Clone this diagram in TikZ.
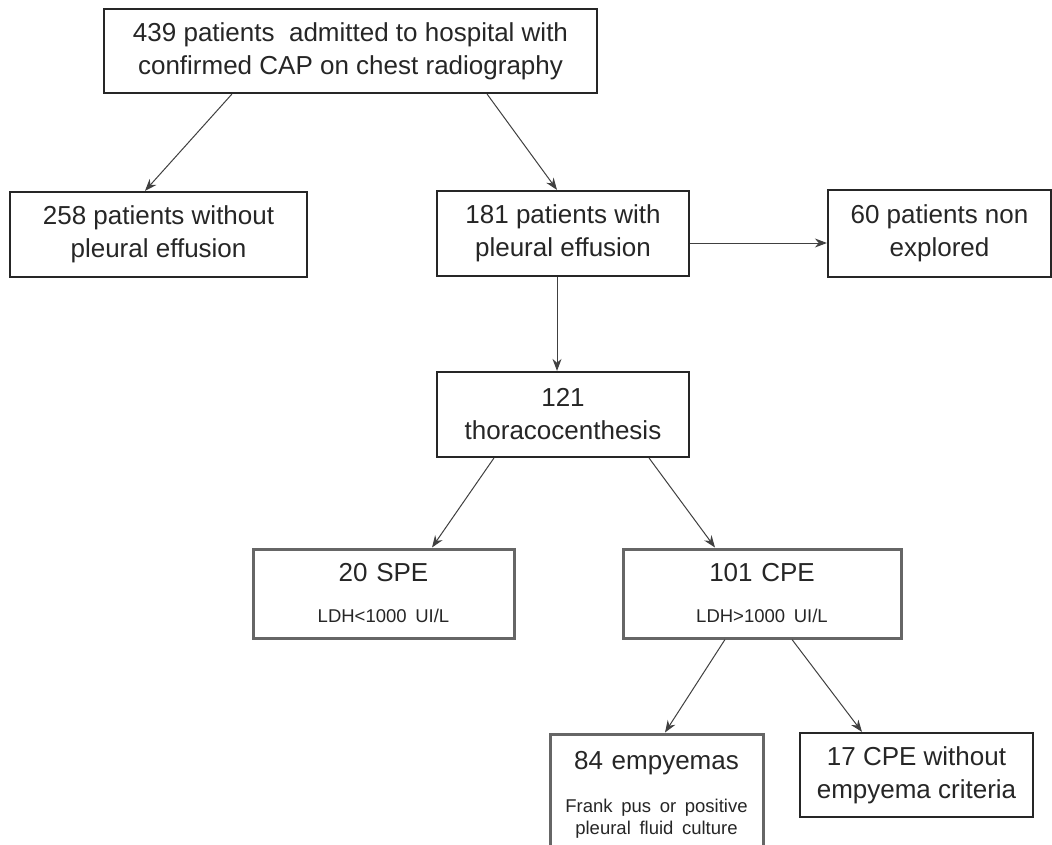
\documentclass[tikz,border=0pt]{standalone}
\usepackage{fontspec}
\setmainfont{Liberation Sans}
\usetikzlibrary{arrows.meta}
\newcommand{\bigf}{\fontsize{26}{33}\selectfont}
\newcommand{\smallf}{\fontsize{18.5}{22}\selectfont}
\tikzset{
  boxa/.style={draw=black!85, line width=2.2pt, fill=white, inner sep=0pt, align=center, text=black!85, font=\bigf},
  boxb/.style={draw=black!60, line width=3pt, fill=white, inner sep=0pt, align=center, text=black!85, font=\bigf},
  arr/.style={draw=black!75, line width=1pt, -{Stealth[length=12pt,width=9pt]}}
}
\begin{document}
\begin{tikzpicture}[x=1pt,y=-1pt]
\clip (0,0) rectangle (1052,845);
\fill[white] (0,0) rectangle (1052,845);
\node[boxa, minimum width=493pt, minimum height=84pt] (top) at (350.5,51) {439 patients~ admitted to hospital with\\confirmed CAP on chest radiography};
\node[boxa, minimum width=297pt, minimum height=85pt] (n258) at (158.5,234.5) {258 patients without\\pleural effusion};
\node[boxa, minimum width=252pt, minimum height=85pt] (n181) at (563,233.5) {181 patients with\\pleural effusion};
\node[boxa, minimum width=223pt, minimum height=87pt] (n60) at (939.5,233.5) {60 patients non\\explored};
\node[boxa, minimum width=252pt, minimum height=85pt] (n121) at (563,414.5) {121\\thoracocenthesis};
\node[boxb, minimum width=261pt, minimum height=89pt, text width=250pt] (spe) at (383.5,593.5) {\bigf 20 SPE\par\vspace{19pt}\smallf \mbox{LDH<1000 UI/L}\par};
\node[boxb, minimum width=278pt, minimum height=89pt, text width=260pt] (cpe) at (762,593.5) {\bigf 101 CPE\par\vspace{19pt}\smallf \mbox{LDH>1000 UI/L}\par};
\node[boxb, minimum width=213pt, minimum height=122pt, text width=205pt] (n84) at (656.5,795) {\bigf 84 empyemas\par\vspace{21pt}\smallf \mbox{Frank pus or positive}\\\mbox{pleural fluid culture}\par};
\node[boxa, minimum width=233pt, minimum height=84pt] (n17) at (916.5,775) {17 CPE without\\empyema criteria};

\draw[arr] ([xshift=129pt]top.south west) -- ([xshift=-13.5pt]n258.north);
\draw[arr] ([xshift=-111pt]top.south east) -- ([xshift=-6pt]n181.north);
\draw[arr] ([yshift=-9.5pt]n181.east) -- ([yshift=-9.5pt]n60.west);
\draw[arr] ([xshift=-6pt]n181.south) -- ([xshift=-6pt]n121.north);
\draw[arr] ([xshift=58pt]n121.south west) -- ([xshift=48.5pt]spe.north);
\draw[arr] ([xshift=-41pt]n121.south east) -- ([xshift=-47pt]cpe.north);
\draw[arr] ([xshift=-37pt]cpe.south) -- ([xshift=8.5pt]n84.north);
\draw[arr] ([xshift=30pt]cpe.south) -- ([xshift=-54.5pt]n17.north);
\end{tikzpicture}
\end{document}
